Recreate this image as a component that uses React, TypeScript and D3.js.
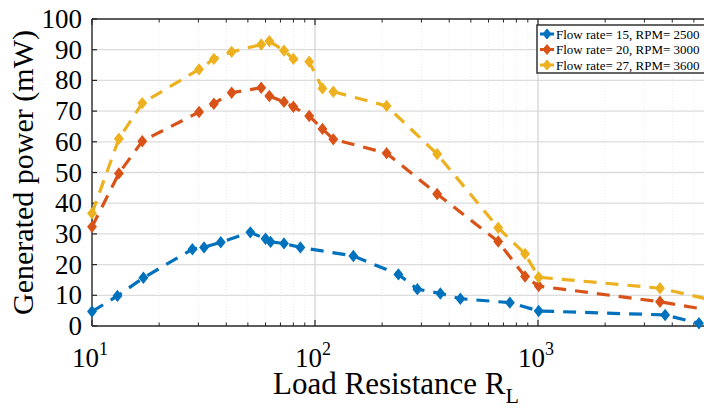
import React from 'react';
import * as d3 from 'd3';

const W = 704;
const H = 418;

// Load resistance values (ohm) and generated power (mW)
const blueX = [10, 13, 17, 28.2, 31.8, 37.8, 51.3, 60, 63.2, 72.6, 86, 148.6, 236.6, 287.8, 364.9, 448.6, 748, 1007, 3716, 5270];
const blueY = [4.7, 9.8, 15.7, 25, 25.6, 27.3, 30.5, 28.4, 27.4, 26.9, 25.6, 22.8, 16.8, 12, 10.6, 8.9, 7.6, 4.9, 3.6, 0.9];

const otherX = [10, 13.2, 16.8, 30.2, 35.2, 42.3, 57.4, 62.4, 72.6, 80, 94.2, 108, 120.8, 209.5, 353, 663, 875, 1007, 3524, 6500];
const orangeY = [32.3, 49.7, 60.2, 69.7, 72.4, 76, 77.6, 74.9, 73, 71.4, 68.4, 64.2, 60.8, 56.3, 43, 27.5, 16.1, 13, 7.9, 4.6];
const yellowY = [36.7, 61, 72.6, 83.6, 87, 89.3, 91.7, 92.8, 89.7, 87, 86.1, 77.4, 76.3, 71.7, 56, 32, 23.5, 15.9, 12.3, 7.9];

const seriesNames = ['Flow rate= 15, RPM= 2500', 'Flow rate= 20, RPM= 3000', 'Flow rate= 27, RPM= 3600'];
const seriesColors = ['#0072BD', '#D95319', '#EDB120'];

const yTicks = [0, 10, 20, 30, 40, 50, 60, 70, 80, 90, 100];
const xMajor = [10, 100, 1000];
const xExp = ['1', '2', '3'];

const series = [
  { name: seriesNames[0], color: seriesColors[0], xs: blueX, ys: blueY },
  { name: seriesNames[1], color: seriesColors[1], xs: otherX, ys: orangeY },
  { name: seriesNames[2], color: seriesColors[2], xs: otherX, ys: yellowY },
];

const left = 92, top = 19, bottom = 326;
const decade = 223;

const x = d3.scaleLog().domain([10, 10000]).range([left, left + decade * 3]);
const y = d3.scaleLinear().domain([0, 100]).range([bottom, top]);
const right = x(10000);

const minorX: number[] = [];
[10, 100, 1000].forEach(b => { for (let k = 2; k <= 9; k++) minorX.push(b * k); });

const diamond = (cx: number, cy: number) =>
  `M${cx},${cy - 5}L${cx + 4},${cy}L${cx},${cy + 5}L${cx - 4},${cy}Z`;

const font = "'Liberation Serif', 'Times New Roman', Times, 'DejaVu Serif', serif";

export default function App() {
  return (
    <svg width={W} height={H} style={{ position: 'absolute', left: 0, top: 0, background: '#fff', fontFamily: font }}>
      <rect x={0} y={0} width={W} height={H} fill="#fff" />
      {/* minor x grid */}
      {minorX.map(v => (
        <line key={'mg' + v} x1={x(v)} x2={x(v)} y1={top} y2={bottom} stroke="#e6e6e6" strokeWidth={0.8} strokeDasharray="1 2" />
      ))}
      {/* y grid */}
      {yTicks.slice(1, -1).map(v => (
        <line key={'yg' + v} x1={left} x2={right} y1={y(v)} y2={y(v)} stroke="#dcdcdc" strokeWidth={1.3} />
      ))}
      {xMajor.slice(1).map(v => (
        <line key={'xg' + v} x1={x(v)} x2={x(v)} y1={top} y2={bottom} stroke="#d2d2d2" strokeWidth={1.2} />
      ))}

      {/* axes box */}
      <line x1={left} x2={right} y1={bottom} y2={bottom} stroke="#262626" strokeWidth={1.4} />
      <line x1={left} x2={right} y1={top} y2={top} stroke="#262626" strokeWidth={1.4} />
      <line x1={left} x2={left} y1={top} y2={bottom} stroke="#262626" strokeWidth={1.4} />

      {/* ticks */}
      {yTicks.map(v => (
        <line key={'yt' + v} x1={left} x2={left + 5} y1={y(v)} y2={y(v)} stroke="#262626" strokeWidth={1.2} />
      ))}
      {xMajor.map(v => (
        <g key={'xt' + v}>
          <line x1={x(v)} x2={x(v)} y1={bottom} y2={bottom - 6} stroke="#262626" strokeWidth={1.2} />
          <line x1={x(v)} x2={x(v)} y1={top} y2={top + 6} stroke="#262626" strokeWidth={1.2} />
        </g>
      ))}
      {minorX.map(v => (
        <g key={'xm' + v}>
          <line x1={x(v)} x2={x(v)} y1={bottom} y2={bottom - 3.5} stroke="#262626" strokeWidth={1} />
          <line x1={x(v)} x2={x(v)} y1={top} y2={top + 3.5} stroke="#262626" strokeWidth={1} />
        </g>
      ))}

      {/* tick labels */}
      {yTicks.map(v => (
        <text key={'yl' + v} x={left - 10} y={y(v) + 9} textAnchor="end" fontSize={27} fill="#000">{v}</text>
      ))}
      {xMajor.map((v, i) => (
        <text key={'xl' + v} x={x(v) - 2} y={367} textAnchor="middle" fontSize={27} fill="#000">
          10<tspan dy={-12} fontSize={18}>{xExp[i]}</tspan>
        </text>
      ))}

      {/* axis labels */}
      <text x={396} y={394} textAnchor="middle" fontSize={31} fill="#000">
        Load Resistance R<tspan dy={9} fontSize={22}>L</tspan>
      </text>
      <text transform={`translate(33,${(top + bottom) / 2}) rotate(-90)`} textAnchor="middle" fontSize={30} fill="#000">
        Generated power (mW)
      </text>

      {/* series */}
      {series.map(s => {
        const pts: [number, number][] = s.xs.map((v, i) => [x(v), y(s.ys[i])]);
        const line = d3.line()(pts) || '';
        return (
          <g key={s.name}>
            <path d={line} fill="none" stroke={s.color} strokeWidth={3.2} strokeDasharray="13 9" />
            {pts.map((p, i) => (
              <path key={i} d={diamond(p[0], p[1])} fill={s.color} stroke={s.color} strokeWidth={1.5} />
            ))}
          </g>
        );
      })}

      {/* legend */}
      <rect x={537} y={25} width={200} height={48} fill="#fff" stroke="#333" strokeWidth={1.5} />
      {series.map((s, i) => {
        const ly = 34 + i * 15.5;
        return (
          <g key={'lg' + i}>
            <line x1={540} x2={554} y1={ly} y2={ly} stroke={s.color} strokeWidth={3} />
            <path d={diamond(547, ly)} fill={s.color} stroke={s.color} strokeWidth={1} />
            <text x={556} y={ly + 4.5} fontSize={13} fill="#000">{s.name}</text>
          </g>
        );
      })}
    </svg>
  );
}
